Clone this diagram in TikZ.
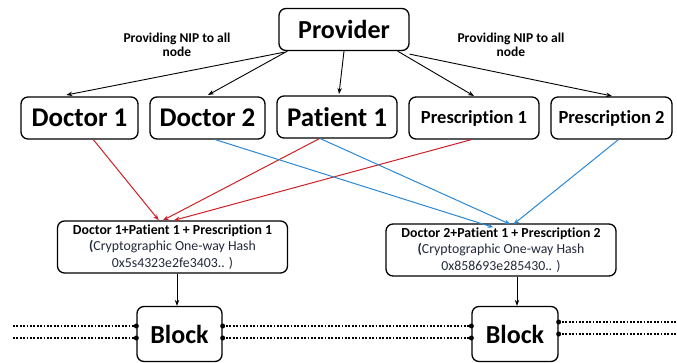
\documentclass[tikz,border=0pt]{standalone}
\usepackage{fontspec}
\setmainfont{Carlito}[Ligatures=NoCommon]
\usetikzlibrary{arrows.meta,calc}
\definecolor{linkred}{RGB}{205,32,38}
\definecolor{linkblue}{RGB}{42,136,212}
\definecolor{hashtext}{RGB}{34,40,58}
\tikzset{
  box/.style={draw=black, line width=1.3pt, rounded corners=7pt, align=center, inner sep=0pt},
  entity/.style={box, minimum height=42pt, font=\bfseries\fontsize{27}{30}\selectfont},
  smallentity/.style={box, minimum height=42pt, font=\bfseries\fontsize{18.5}{21}\selectfont},
  hashbox/.style={box, minimum width=230pt, minimum height=52pt, font=\fontsize{13.8}{16.5}\selectfont},
  blockbox/.style={box, minimum height=55pt, font=\bfseries\fontsize{26}{30}\selectfont},
  note/.style={align=center, font=\bfseries\fontsize{13.5}{14}\selectfont},
  feed/.style={draw=black, line width=0.9pt, -{Stealth[length=6pt,width=4.5pt]}},
  redlink/.style={draw=linkred, line width=1pt, -{Stealth[length=6pt,width=4.5pt]}},
  bluelink/.style={draw=linkblue, line width=1pt, -{Stealth[length=6pt,width=4.5pt]}},
  chain/.style={draw=black, line width=2pt, dash pattern=on 1.8pt off 1.6pt},
  joint/.style={fill=black, draw=none, circle, minimum size=5pt, inner sep=0pt}
}
\begin{document}
\begin{tikzpicture}[x=1pt, y=-1pt]
\useasboundingbox (0,0) rectangle (677,363);

% top: the provider
\node[entity, font=\bfseries\fontsize{26}{30}\selectfont, minimum width=130pt] (prov) at (344,29.5) {Provider};
\node[note] (noteL) at (177,45) {Providing NIP to all\\node};
\node[note] (noteR) at (511,45) {Providing NIP to all\\node};

% second row: participants
\node[entity, minimum width=117pt] (doc1) at (79.5,118) {Doctor 1};
\node[entity, minimum width=115pt] (doc2) at (207.5,118) {Doctor 2};
\node[entity, minimum width=120pt] (pat1) at (337,117) {Patient 1};
\node[smallentity, minimum width=130pt] (pre1) at (474,118) {Prescription 1};
\node[smallentity, minimum width=121pt] (pre2) at (611.5,118) {Prescription 2};

% hash records
\node[hashbox] (hash1) at (172.5,247) {\textbf{Doctor 1+Patient 1 + Prescription 1}\\
  \textcolor{hashtext}{\textbf{(}Cryptographic One-way Hash}\\
  \textcolor{hashtext}{0x5s4323e2fe3403.. )}};
\node[hashbox] (hash2) at (501,250) {\textbf{Doctor 2+Patient 1 + Prescription 2}\\
  \textcolor{hashtext}{\textbf{(}Cryptographic One-way Hash}\\
  \textcolor{hashtext}{0x858693e285430.. )}};

% blocks
\node[blockbox, minimum width=85pt] (blk1) at (179.5,334) {Block};
\node[blockbox, minimum width=86pt] (blk2) at (515,334) {Block};

% provider distributes NIP to every node
\draw[feed] ([xshift=6pt,yshift=-1pt]prov.south west) -- ([xshift=46pt]doc1.north west |- 0,95) coordinate (t1);
\draw[feed] ([xshift=9pt]prov.south west) -- (208,95) coordinate (t2);
\draw[feed] (prov.south) -- (339,94) coordinate (t3);
\draw[feed] ([xshift=-12pt]prov.south east) -- (474,96) coordinate (t4);
\draw[feed] ([yshift=-3pt]prov.south east) -- (612,96) coordinate (t5);

% first record inputs (red)
\draw[redlink] ([xshift=73pt]doc1.south west) -- ([xshift=102pt]hash1.north west);
\draw[redlink] ([xshift=43pt]pat1.south west) -- ([xshift=106pt]hash1.north west);
\draw[redlink] ([xshift=63pt]pre1.south west) -- ([xshift=117pt]hash1.north west);

% second record inputs (blue)
\draw[bluelink] ([xshift=66pt]doc2.south west) -- ([xshift=108pt,yshift=-4pt]hash2.north west);
\draw[bluelink] ([xshift=44pt]pat1.south west) -- ([xshift=125pt,yshift=-1pt]hash2.north west);
\draw[bluelink] ([xshift=68pt]pre2.south west) -- ([xshift=128pt,yshift=-1pt]hash2.north west);

% records into blocks
\draw[feed] ([xshift=4.5pt]hash1.south) -- ([xshift=-2.5pt]blk1.north);
\draw[feed] ([xshift=16pt]hash2.south) -- ([xshift=2pt]blk2.north);

% chain links between blocks
\coordinate (leftend1) at (13,326);
\coordinate (leftend2) at (13,338);
\coordinate (rightend1) at (677,322);
\coordinate (rightend2) at (677,334);
\draw[chain] (leftend1) -- (blk1.west |- 0,326);
\draw[chain] (leftend2) -- (blk1.west |- 0,338);
\draw[chain] (blk1.east |- 0,326) -- (blk2.west |- 0,326);
\draw[chain] (blk1.east |- 0,338) -- (blk2.west |- 0,338);
\draw[chain] (blk2.east |- 0,322) -- (rightend1);
\draw[chain] (blk2.east |- 0,334) -- (rightend2);

\node[joint] (j1) at (blk1.west |- 0,326) {};
\node[joint] (j2) at (blk1.west |- 0,338) {};
\node[joint] (j3) at (blk1.east |- 0,326) {};
\node[joint] (j4) at (blk1.east |- 0,338) {};
\node[joint] (j5) at (blk2.west |- 0,326) {};
\node[joint] (j6) at (blk2.west |- 0,338) {};
\node[joint] (j7) at (blk2.east |- 0,322) {};
\node[joint] (j8) at (blk2.east |- 0,334) {};
\end{tikzpicture}
\end{document}
